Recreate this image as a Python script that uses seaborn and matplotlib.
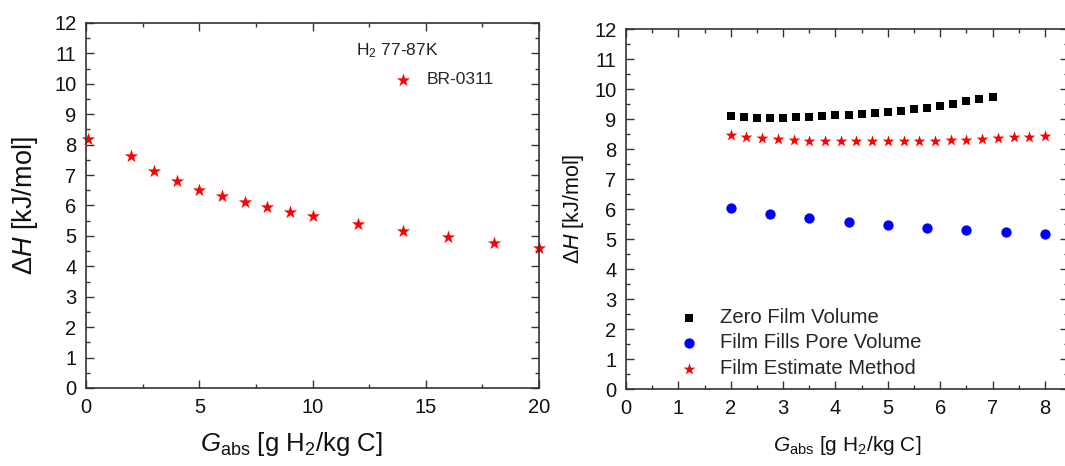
import matplotlib
matplotlib.use("Agg")
import matplotlib.pyplot as plt
from matplotlib.ticker import MultipleLocator
import seaborn as sns
import pandas as pd

# Isosteric heat, BR-0311 (77-87 K)
g_br0311 = [0.1, 2, 3, 4, 5, 6, 7, 8, 9, 10, 12, 14, 16, 18, 20]
dh_br0311 = [8.20, 7.62, 7.14, 6.79, 6.52, 6.30, 6.11, 5.94, 5.79, 5.64,
             5.39, 5.17, 4.96, 4.78, 4.59]

# Film-volume treatments
g_zero = [2.00, 2.25, 2.50, 2.75, 3.00, 3.25, 3.50, 3.75, 4.00, 4.25, 4.50,
          4.75, 5.00, 5.25, 5.50, 5.75, 6.00, 6.25, 6.50, 6.75, 7.00]
dh_zero = [9.09, 9.07, 9.04, 9.03, 9.04, 9.06, 9.08, 9.10, 9.12, 9.14, 9.17,
           9.20, 9.23, 9.28, 9.32, 9.38, 9.44, 9.51, 9.59, 9.66, 9.74]

g_fills = [2.00, 2.75, 3.50, 4.25, 5.00, 5.75, 6.50, 7.25, 8.00]
dh_fills = [6.03, 5.84, 5.69, 5.57, 5.47, 5.38, 5.30, 5.23, 5.17]

g_est = [2.0, 2.3, 2.6, 2.9, 3.2, 3.5, 3.8, 4.1, 4.4, 4.7, 5.0,
         5.3, 5.6, 5.9, 6.2, 6.5, 6.8, 7.1, 7.4, 7.7, 8.0]
dh_est = [8.48, 8.41, 8.37, 8.33, 8.30, 8.28, 8.27, 8.26, 8.26, 8.26, 8.26,
          8.26, 8.27, 8.28, 8.29, 8.31, 8.33, 8.36, 8.39, 8.41, 8.44]

series_labels = ["Zero Film Volume", "Film Fills Pore Volume", "Film Estimate Method"]

sns.set_style("ticks")
plt.rcParams["font.family"] = ["Liberation Sans", "DejaVu Sans"]
plt.rcParams["mathtext.fontset"] = "custom"
plt.rcParams["mathtext.rm"] = "Liberation Sans"
plt.rcParams["mathtext.it"] = "Liberation Sans:italic"
plt.rcParams["mathtext.bf"] = "Liberation Sans:bold"

spine_col = "#333333"
text_col = "#111111"

fig = plt.figure(figsize=(10.65, 4.66), dpi=100)
ax1 = fig.add_axes([0.0808, 0.1674, 0.4254, 0.7833])
ax2 = fig.add_axes([0.5878, 0.1652, 0.4150, 0.7725])


def style_axes(ax):
    for s in ax.spines.values():
        s.set_visible(True)
        s.set_linewidth(1.2)
        s.set_color(spine_col)
    ax.tick_params(which="both", direction="in", top=True, right=True,
                   color=spine_col, width=1.0, labelsize=14.5,
                   labelcolor=text_col, pad=7)
    ax.tick_params(which="major", length=5.5)
    ax.tick_params(which="minor", length=3)
    ax.yaxis.set_major_locator(MultipleLocator(1))
    ax.yaxis.set_minor_locator(MultipleLocator(0.5))
    ax.set_ylim(0, 12)


# Left panel
df_left = pd.DataFrame({"G": g_br0311, "dH": dh_br0311})
sns.scatterplot(data=df_left, x="G", y="dH", marker="*", color="#ff0000",
                s=100, linewidth=0, ax=ax1, label="BR-0311", clip_on=False)
style_axes(ax1)
ax1.set_xlim(0, 20)
ax1.xaxis.set_major_locator(MultipleLocator(5))
ax1.xaxis.set_minor_locator(MultipleLocator(2.5))
ax1.set_xlabel(r"$\mathit{G}_{\mathrm{abs}}$ [g H$_2$/kg C]", fontsize=18.5,
               color=text_col)
ax1.xaxis.set_label_coords(0.453, -0.115)
ax1.set_ylabel(r"$\mathit{\Delta H}$ [kJ/mol]", fontsize=19.5, labelpad=10,
               color=text_col)
ax1.text(0.595, 0.925, r"H$_2$ 77-87K", transform=ax1.transAxes,
         fontsize=12.5, ha="left", va="center", color="#222222")
ax1.legend(loc="upper left", bbox_to_anchor=(0.68, 0.865), frameon=False,
           fontsize=12.5, handlelength=1.0, handletextpad=0.9,
           borderpad=0, borderaxespad=0)

# Right panel
df_zero = pd.DataFrame({"G": g_zero, "dH": dh_zero})
df_fills = pd.DataFrame({"G": g_fills, "dH": dh_fills})
df_est = pd.DataFrame({"G": g_est, "dH": dh_est})
sns.scatterplot(data=df_zero, x="G", y="dH", marker="s", color="black",
                s=40, linewidth=0, ax=ax2, label=series_labels[0])
sns.scatterplot(data=df_fills, x="G", y="dH", marker="o", color="#0000ff",
                s=55, linewidth=0, ax=ax2, label=series_labels[1])
sns.scatterplot(data=df_est, x="G", y="dH", marker="*", color="#ff0000",
                s=80, linewidth=0, ax=ax2, label=series_labels[2])
style_axes(ax2)
ax2.set_xlim(0, 8.44)
ax2.xaxis.set_major_locator(MultipleLocator(1))
ax2.xaxis.set_minor_locator(MultipleLocator(0.5))
ax2.set_xlabel(r"$\mathit{G}_{\mathrm{abs}}$ [g H$_2$/kg C]", fontsize=15,
               labelpad=12, color=text_col)
ax2.set_ylabel(r"$\mathit{\Delta H}$ [kJ/mol]", fontsize=15.5, labelpad=6,
               color=text_col)
ax2.legend(loc="lower left", bbox_to_anchor=(0.12, 0.031), frameon=False,
           fontsize=14.6, handlelength=1.0, handletextpad=1.0,
           labelspacing=0.32, borderpad=0, borderaxespad=0)

fig.savefig("out.png", dpi=100)
